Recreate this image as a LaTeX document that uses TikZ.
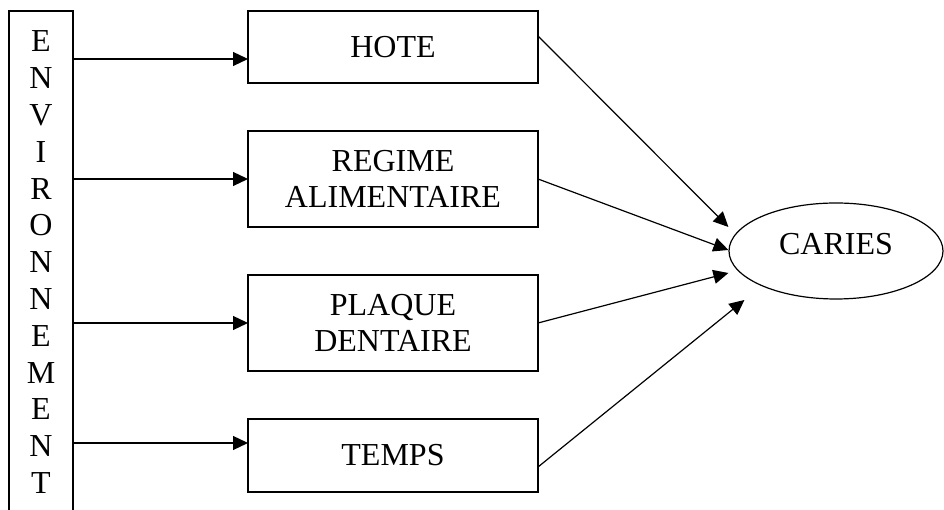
\documentclass[tikz,border=0pt]{standalone}
\usepackage{fontspec}
\setmainfont{Liberation Serif}
\usetikzlibrary{arrows.meta, positioning, shapes.geometric}
\tikzset{
    facteur/.style={draw, line width=1.2pt, minimum width=290pt, align=center, inner sep=0pt, outer sep=0pt},
    fleche/.style={line width=1.2pt, -{Triangle[length=15pt, width=14pt]}},
}

\begin{document}
\begin{tikzpicture}[x=1pt, y=1pt, font=\fontsize{32}{36.8}\selectfont, node distance=48pt]
          \useasboundingbox (0,0) rectangle (944,510);
          \clip (0,0) rectangle (944,510);
          \node [draw, line width=1.2pt, minimum width=64pt, inner xsep=0pt, inner ysep=20pt, outer sep=0pt, align=center, anchor=north west] (env) at (9,499) {E\\N\\V\\I\\R\\O\\N\\N\\E\\M\\E\\N\\T};
          \node [facteur, minimum height=72pt, anchor=north west] (hote) at (248,499) {HOTE};
          \node [facteur, minimum height=96pt, below=of hote] (regime) {REGIME\\ALIMENTAIRE};
          \node [facteur, minimum height=96pt, below=of regime] (plaque) {PLAQUE\\DENTAIRE};
          \node [facteur, minimum height=73pt, below=of plaque] (temps) {TEMPS};
          \node [draw, ellipse, line width=1.2pt, minimum width=214pt, minimum height=96pt, text depth=14pt] (caries) at (836,259) {CARIES};
          \coordinate (c1) at ([shift={(0,24)}]caries.west);
          \coordinate (c2) at ([shift={(0,1)}]caries.west);
          \coordinate (c3) at ([shift={(0,-22)}]caries.west);
          \coordinate (c4) at ([shift={(16,-49)}]caries.west);
          \draw [fleche] ([yshift=-12pt]hote.west -| env.east) -- ([yshift=-12pt]hote.west);
          \draw [fleche] (regime.west -| env.east) -- (regime.west);
          \draw [fleche] (plaque.west -| env.east) -- (plaque.west);
          \draw [fleche] ([yshift=12.5pt]temps.west -| env.east) -- ([yshift=12.5pt]temps.west);
          \draw [fleche] ([yshift=11pt]hote.east) -- (c1);
          \draw [fleche] (regime.east) -- (c2);
          \draw [fleche] (plaque.east) -- (c3);
          \draw [fleche] ([yshift=-11.5pt]temps.east) -- (c4);
        \end{tikzpicture}
\end{document}
